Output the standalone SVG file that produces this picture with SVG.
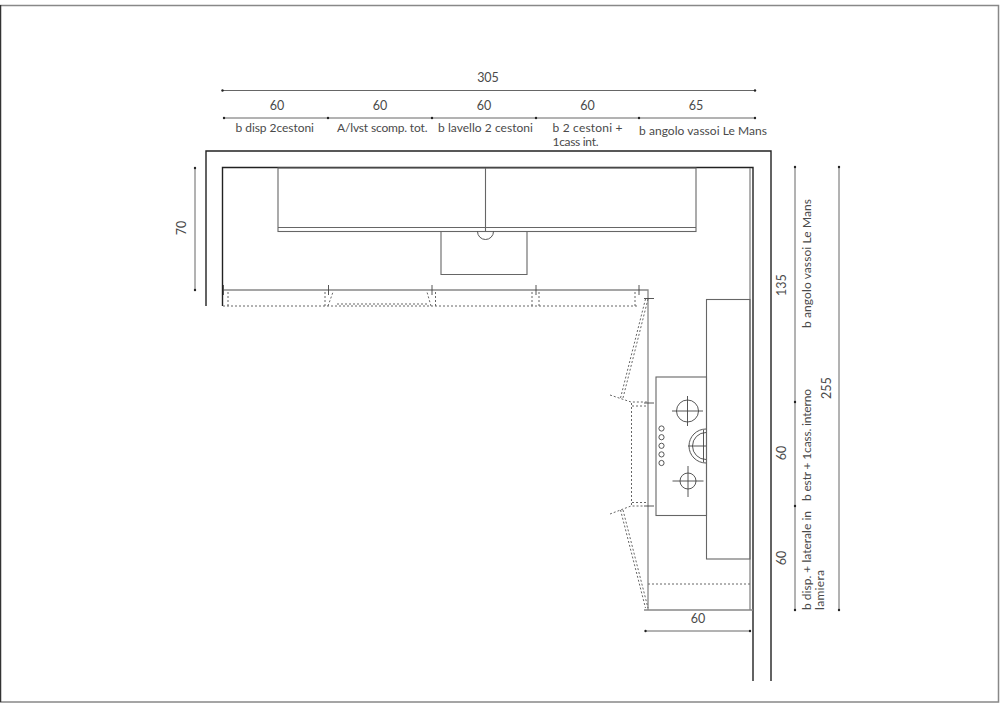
<svg xmlns="http://www.w3.org/2000/svg" width="1000" height="707" viewBox="0 0 1000 707">
<style>
text{font-family:"Lato","Liberation Sans",sans-serif;fill:#4a4a4a;font-size:12px}
.n{text-anchor:middle;font-size:12.5px}
.w{fill:none;stroke:#222;stroke-width:1.4}
.l{fill:none;stroke:#666;stroke-width:1.1}
.g{fill:none;stroke:#888;stroke-width:1.3}
.t{fill:none;stroke:#444;stroke-width:.9}
.d{fill:none;stroke:#666;stroke-width:1;stroke-dasharray:2 2}
.dim{fill:none;stroke:#666;stroke-width:1}
.dot{fill:#222}
</style>
<defs><g id="hit"><circle r="1.2" class="dot"/></g></defs>
<rect width="1000" height="707" fill="#fff"/>
<g id="frame">
<path fill="none" stroke="#888" stroke-width="1.500" d="M0 5.500H998.500V702H0"/>
<path fill="none" stroke="#333" stroke-width="1.500" d="M.5 5V702"/>
</g>
<g id="walls">
<path class="w" d="M206 306V151H771V681"/>
<path class="w" d="M222.500 306V167.500H753V681"/>
</g>
<g id="wall-units">
<rect class="l" x="278" y="168" width="418" height="63.500"/>
<path class="l" d="M278 227.500H696M485.500 168V231"/>
<path class="l" d="M441 231.500V274.500H527V231.500"/>
<path class="t" stroke-width="1.200" d="M477.500 231.500A8 8 0 0 0 493.500 231.500"/>
</g>
<g id="base-units">
<path class="g" d="M223 290H648V610M644 610H753M750 168V610"/>
<path class="d" d="M223 306H639M228 292V306M325 306V292M328 306L333 292M431 306L427 292M435.500 306V292M532 306V292M539 306V292M635 306V292M337 304H428"/>
<path class="t" d="M223.500 285V295M328.500 285V295M432 285V295M536 285V295M639 285V295M644 298.500H654"/>
<path class="t" d="M644 403H654M644 506H654"/>
<path class="d" d="M648 299L623 398M645.500 299L620.500 398"/>
<path class="d" d="M610 395L631 402H648M632 406H648M610 514L631 506H644M632 502.500H648"/>
<path class="d" stroke-width="1.700" d="M631.500 403V505"/>
<path class="d" d="M623 510L648 608M620.500 510L645.500 608"/>
<path class="d" stroke-dasharray="3 3" d="M648 584H752"/>
</g>
<g id="tall-unit"><rect class="l" x="706.500" y="299.500" width="43.500" height="259.500"/></g>
<g id="hob">
<rect class="l" x="656" y="377" width="50.500" height="138.500"/>
<circle class="t" cx="687.500" cy="411" r="11"/><path class="t" d="M672 411H703M687.500 396V426"/>
<circle class="t" cx="688" cy="481" r="8"/><path class="t" d="M672.500 481H703.500M688 466V497"/>
<path class="t" d="M706 432.500A13.500 13.500 0 0 0 706 459.500M706 429A17 17 0 0 0 706 463M688 446H706M703.500 430V462"/>
<circle class="t" cx="661.500" cy="428.500" r="2.600"/><circle class="t" cx="661.500" cy="437.200" r="2.600"/><circle class="t" cx="661.500" cy="445.800" r="2.600"/><circle class="t" cx="661.500" cy="454.400" r="2.600"/><circle class="t" cx="661.500" cy="463" r="2.600"/>
</g>
<g id="dimensions">
<path class="dim" d="M222.500 90.500H755M224 118H755M195 168V290M795 167V610M839 167V610M645.500 631H750"/>
<use href="#hit" x="222.500" y="90.500"/><use href="#hit" x="755" y="90.500"/>
<use href="#hit" x="224" y="118"/><use href="#hit" x="328" y="118"/><use href="#hit" x="432" y="118"/><use href="#hit" x="536" y="118"/><use href="#hit" x="639" y="118"/><use href="#hit" x="755" y="118"/>
<use href="#hit" x="195" y="168"/><use href="#hit" x="195" y="290"/>
<use href="#hit" x="795" y="167"/><use href="#hit" x="795" y="402"/><use href="#hit" x="795" y="506"/><use href="#hit" x="795" y="610"/>
<use href="#hit" x="839" y="167"/><use href="#hit" x="839" y="610"/>
<use href="#hit" x="645.500" y="631"/><use href="#hit" x="750" y="631"/>
<text class="n" x="488" y="82">305</text>
<text class="n" x="277" y="110">60</text><text class="n" x="380" y="110">60</text><text class="n" x="484" y="110">60</text><text class="n" x="587.500" y="110">60</text><text class="n" x="696" y="110">65</text>
<text x="235.500" y="132" textLength="78.500">b disp 2cestoni</text>
<text x="337" y="132" textLength="90.500">A/lvst scomp. tot.</text>
<text x="438" y="132" textLength="95">b lavello 2 cestoni</text>
<text x="552.500" y="132" textLength="70">b 2 cestoni  +</text>
<text x="552.500" y="146" textLength="46">1cass int.</text>
<text x="639" y="135" textLength="128">b angolo vassoi Le Mans</text>
<text class="n" x="698" y="623">60</text>
<text class="n" transform="translate(186 228) rotate(-90)">70</text>
<text class="n" transform="translate(786 285) rotate(-90)">135</text>
<text class="n" transform="translate(786 453) rotate(-90)">60</text>
<text class="n" transform="translate(786 558) rotate(-90)">60</text>
<text class="n" transform="translate(831 388) rotate(-90)">255</text>
<text transform="translate(811 328) rotate(-90)" textLength="129">b angolo vassoi Le Mans</text>
<text transform="translate(811 501) rotate(-90)" textLength="112">b estr + 1cass. interno</text>
<text transform="translate(811 610) rotate(-90)" textLength="99">b disp. + laterale in</text>
<text transform="translate(824 610) rotate(-90)" textLength="40">lamiera</text>
</g>
</svg>
